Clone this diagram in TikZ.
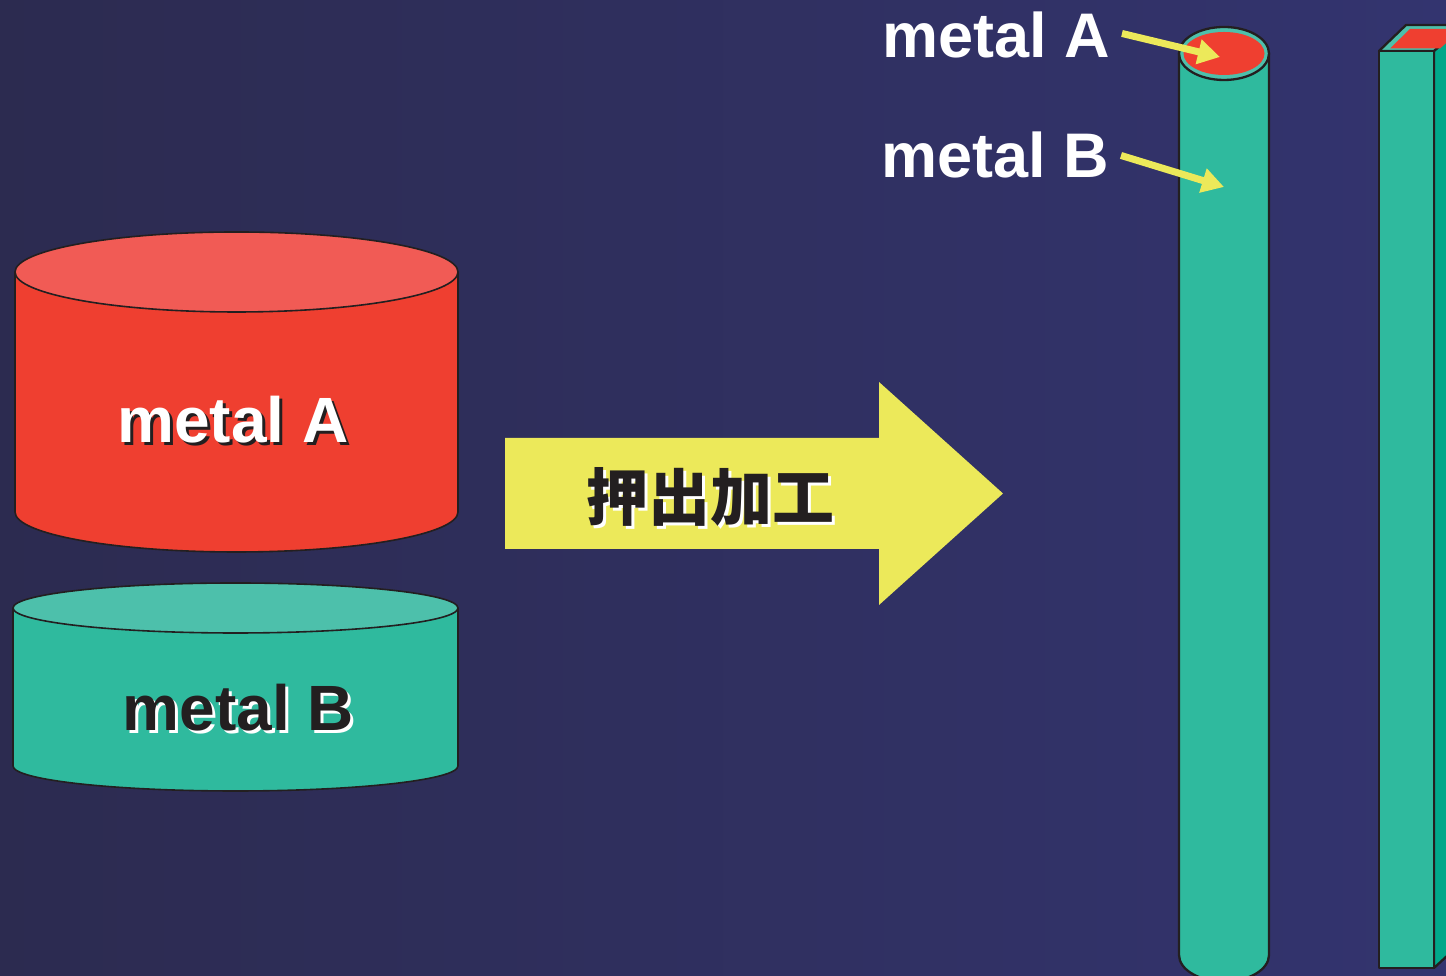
\documentclass[tikz,border=0pt]{standalone}
\usepackage{fontspec}
\setmainfont{Liberation Sans}
\newfontfamily\cjk{Noto Sans CJK JP}
\usetikzlibrary{arrows.meta}

\definecolor{bgL}{HTML}{2C2B50}
\definecolor{bgR}{HTML}{33346F}
\definecolor{redA}{HTML}{EF3F30}
\definecolor{redTop}{HTML}{F15B55}
\definecolor{tealB}{HTML}{2FBA9E}
\definecolor{tealTop}{HTML}{4DC0AB}
\definecolor{tealSide}{HTML}{00A88A}
\definecolor{yel}{HTML}{ECE95A}
\definecolor{ink}{HTML}{231F20}

\tikzset{
  outline/.style={draw=ink, line width=1.6pt, line join=round},
  baroutline/.style={draw=ink, line width=2.3pt, line join=round},
  biglbl/.style={font=\fontsize{64}{70}\selectfont\bfseries, inner sep=0pt, anchor=base},
  toplbl/.style={font=\fontsize{63}{70}\selectfont\bfseries, text=white,
                 inner xsep=12pt, inner ysep=0pt, anchor=base},
  cjklbl/.style={font=\fontsize{62}{70}\selectfont\cjk\bfseries, inner sep=0pt},
  pointer/.style={draw=yel, line width=7pt,
                  -{Triangle[length=22pt,width=24pt]}}
}

\begin{document}
\begin{tikzpicture}[x=1pt,y=1pt]
  \useasboundingbox (0,0) rectangle (1446,976);
  \clip (0,0) rectangle (1446,976);
  \shade[left color=bgL, right color=bgR] (0,0) rectangle (1446,976);

  % billet of metal A
  \filldraw[outline, fill=redA] (15,704) -- (15,464)
    arc[start angle=180, end angle=360, x radius=221.5, y radius=40]
    -- (458,704) -- cycle;
  \filldraw[outline, fill=redTop] (236.5,704) ellipse[x radius=221.5, y radius=40];
  \node[biglbl, text=ink]   (billetAsh) at (236,530) {metal A};
  \node[biglbl, text=white] (billetA)   at (233,533) {metal A};

  % billet of metal B
  \filldraw[outline, fill=tealB] (13,368) -- (13,210)
    arc[start angle=180, end angle=360, x radius=222.5, y radius=25]
    -- (458,368) -- cycle;
  \filldraw[outline, fill=tealTop] (235.5,368) ellipse[x radius=222.5, y radius=25];
  \node[biglbl, text=white] (billetBsh) at (241.5,242) {metal B};
  \node[biglbl, text=ink]   (billetB)   at (238.5,245) {metal B};

  % extrusion arrow
  \fill[yel] (505,538) -- (879,538) -- (879,594) -- (1003,482.5)
    -- (879,371) -- (879,427) -- (505,427) -- cycle;
  \node[cjklbl, text=white] (procsh) at (713,476) {押出加工};
  \node[cjklbl, text=ink]   (proc)   at (710,479) {押出加工};

  % extruded round bar
  \filldraw[baroutline, fill=tealB] (1179,923) -- (1179,21)
    arc[start angle=180, end angle=360, x radius=45, y radius=26.5]
    -- (1269,923) -- cycle;
  \filldraw[baroutline, fill=tealTop] (1224,922.5) ellipse[x radius=45, y radius=26.5];
  \fill[redA] (1224,922.5) ellipse[x radius=40.5, y radius=21.5];
  \coordinate (coreA) at (1220,919);
  \coordinate (skinB) at (1224,789);

  % extruded square bar
  \filldraw[baroutline, fill=tealSide] (1434,925) -- (1462,951) -- (1462,34) -- (1434,8) -- cycle;
  \filldraw[baroutline, fill=tealTop] (1379,925) -- (1434,925) -- (1462,951) -- (1406,951) -- cycle;
  \fill[redA] (1390,927.5) -- (1440,927.5) -- (1462,947) -- (1410,947) -- cycle;
  \filldraw[baroutline, fill=tealB] (1379,8) rectangle (1434,925);

  % labels of the bar
  \node[toplbl] (lblA) at (996,918) {metal A};
  \node[toplbl] (lblB) at (995,798) {metal B};
  \draw[pointer] ([yshift=2pt]lblA.east) -- (coreA);
  \draw[pointer] (lblB.east) -- (skinB);
\end{tikzpicture}
\end{document}
